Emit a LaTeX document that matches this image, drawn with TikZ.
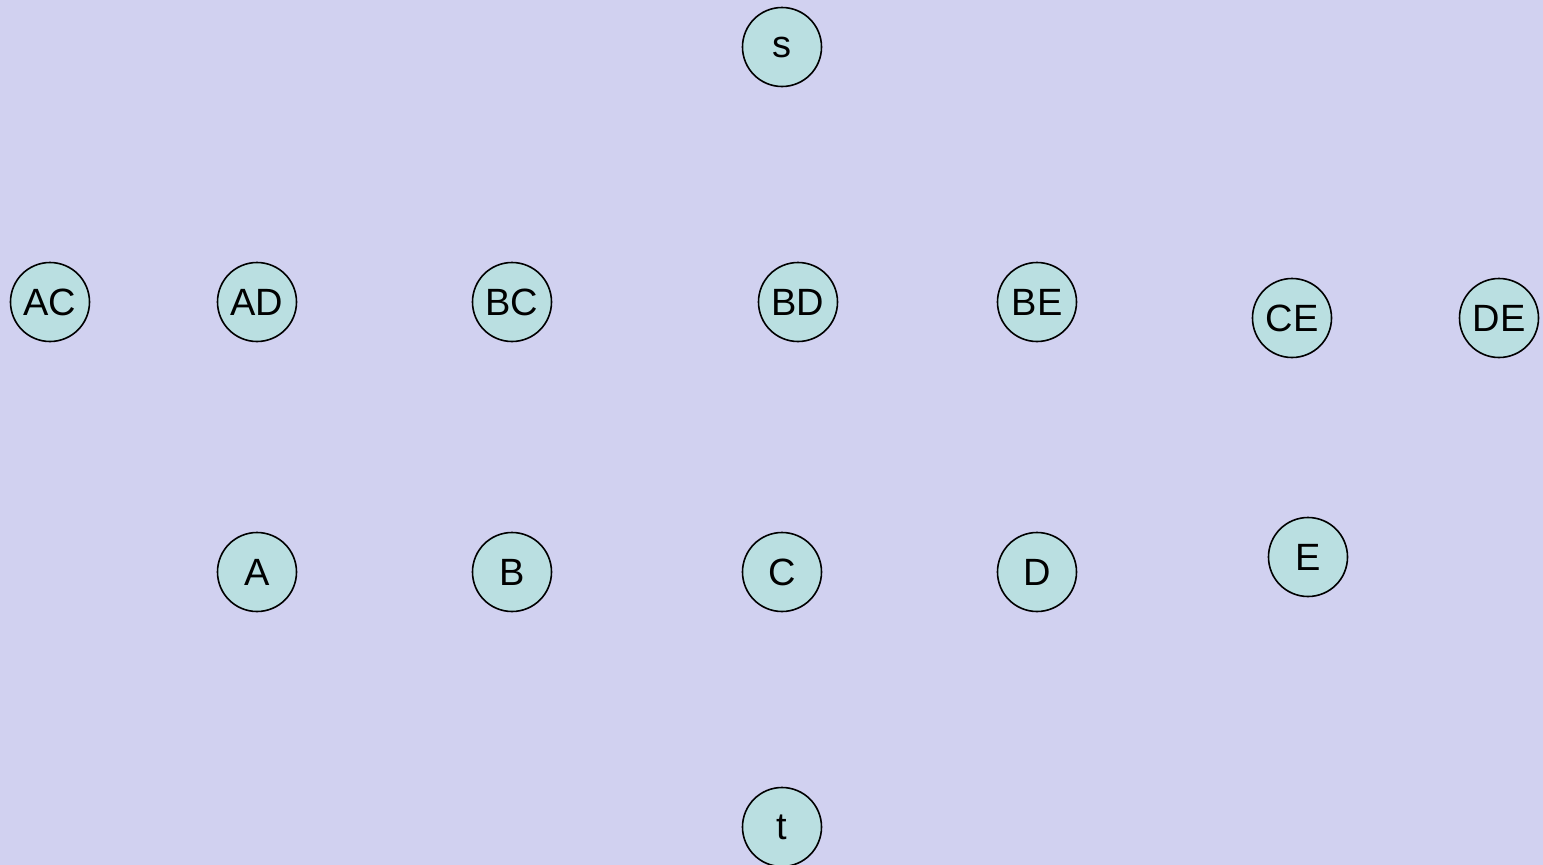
\documentclass[tikz,border=0pt]{standalone}
\usepackage{fontspec}
\setmainfont{Liberation Sans}
\definecolor{bgc}{RGB}{209,209,240}
\definecolor{nodec}{RGB}{186,223,225}
\begin{document}
\begin{tikzpicture}[x=1pt,y=-1pt,
  vnode/.style={circle,draw=black,line width=1.6pt,fill=nodec,minimum size=79pt,inner sep=0pt,font=\fontsize{38}{40}\selectfont}]
\fill[bgc] (0,0) rectangle (1543,865);
\useasboundingbox (0,0) rectangle (1543,865);
\node[vnode] (s) at (782,47) {s};
\node[vnode] (AC) at (50,302) {AC};
\node[vnode] (AD) at (257,302) {AD};
\node[vnode] (BC) at (512,302) {BC};
\node[vnode] (BD) at (798,302) {BD};
\node[vnode] (BE) at (1037,302) {BE};
\node[vnode] (CE) at (1292,318) {CE};
\node[vnode] (DE) at (1499,318) {DE};
\node[vnode] (A) at (257,572) {A};
\node[vnode] (B) at (512,572) {B};
\node[vnode] (C) at (782,572) {C};
\node[vnode] (D) at (1037,572) {D};
\node[vnode] (E) at (1308,557) {E};
\node[vnode] (t) at (782,827) {t};
\end{tikzpicture}
\end{document}
